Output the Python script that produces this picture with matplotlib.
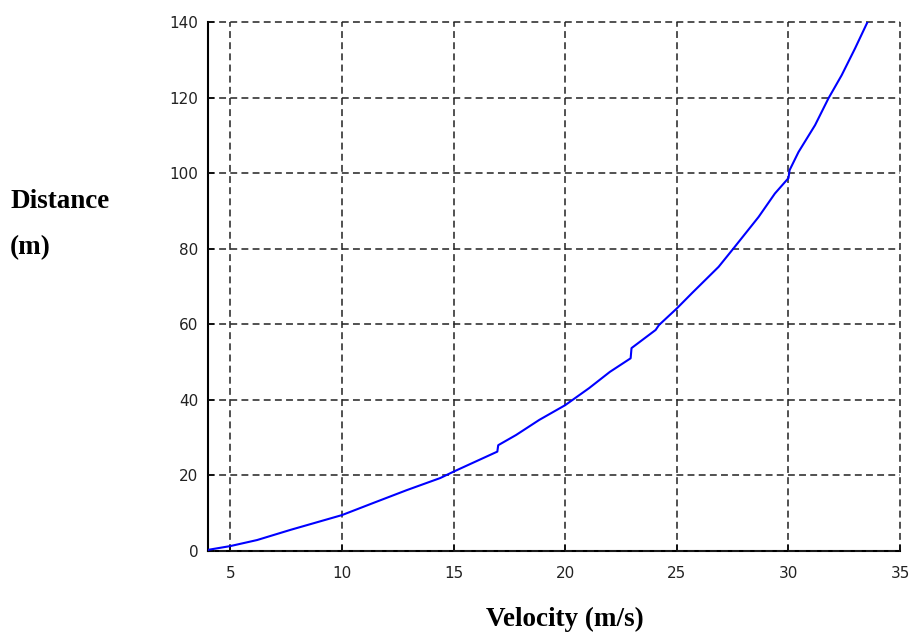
import matplotlib
matplotlib.use("Agg")
import matplotlib.pyplot as plt

# puntos
velocidad = [4.0, 5.0, 6.2, 7.7, 10.0, 11.4, 12.9, 14.4, 15.0, 15.85, 16.96, 17.0,
             17.8, 18.84, 20.0, 21.07, 22.0, 22.93, 22.97, 24.05, 24.2, 25.0, 25.67,
             26.87, 27.54, 28.66, 29.39, 30.0, 30.05, 30.45, 31.19, 31.79, 32.38,
             32.98, 33.54]
distancia = [0.3, 1.3, 2.9, 5.6, 9.5, 12.7, 16.1, 19.3, 21.0, 23.3, 26.3, 28.0,
             30.7, 34.7, 38.6, 43.1, 47.4, 51.0, 53.7, 58.5, 59.8, 64.2, 68.2,
             75.2, 80.1, 88.4, 94.6, 98.7, 100.8, 105.6, 112.7, 119.8, 125.9,
             133.0, 140.0]
xticks = [5, 10, 15, 20, 25, 30, 35]
yticks = [0, 20, 40, 60, 80, 100, 120, 140]

fig = plt.figure(figsize=(9.12, 6.37), dpi=100)
ax = fig.add_axes([0.228, 0.135, 0.759, 0.8305])

ax.plot(velocidad, distancia, color="#0000ff", lw=1.5, zorder=3)

ax.set_xlim(4, 35)
ax.set_ylim(0, 140)
ax.set_xticks(xticks)
ax.set_yticks(yticks)
ax.grid(True, color="#222222", linestyle=(0, (4.5, 2.8)), linewidth=1.1)
ax.set_axisbelow(False)
for g in ax.xaxis.get_gridlines() + ax.yaxis.get_gridlines():
    g.set_clip_on(False)

for s in ["top", "right"]:
    ax.spines[s].set_visible(False)
for s in ["left", "bottom"]:
    ax.spines[s].set_linewidth(1.5)
    ax.spines[s].set_color("black")

ax.tick_params(direction="in", length=4, width=1.1, labelsize=11,
               labelcolor="#222222", pad=7)
ax.tick_params(axis="x", pad=11)

serif = {"family": ["Liberation Serif", "DejaVu Serif"], "weight": "bold", "size": 19.5}
fig.text(0.011, 0.683, "Distance", ha="left", va="center", **serif)
fig.text(0.011, 0.611, "(m)", ha="left", va="center", **serif)
fig.text(0.619, 0.027, "Velocity (m/s)", ha="center", va="center", **serif)

fig.savefig("out.png", dpi=100)
